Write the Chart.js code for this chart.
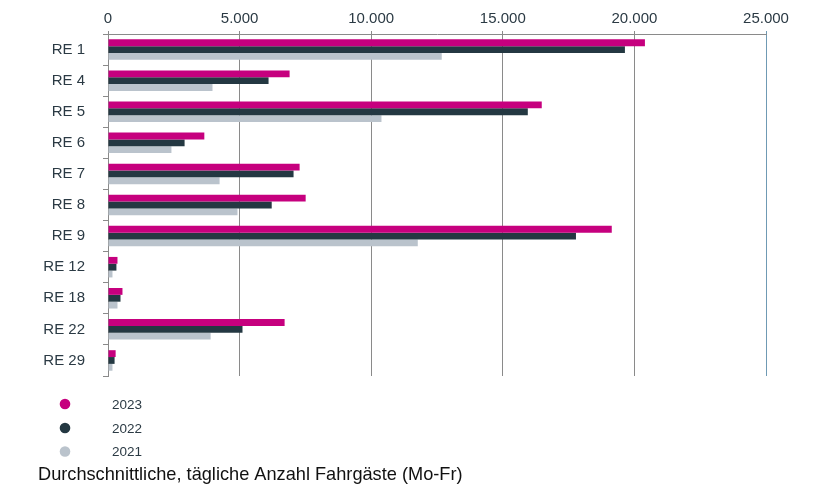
<!DOCTYPE html>
<html>
<head>
<meta charset="utf-8">
<script src="https://cdn.jsdelivr.net/npm/chart.js@4"></script>
<style>
html,body{margin:0;padding:0;background:#fff;}
#wrap{width:823px;height:503px;position:relative;}
</style>
</head>
<body>
<div id="wrap"><canvas id="c" width="823" height="503"></canvas></div>
<script>
const categories = ["RE 1","RE 4","RE 5","RE 6","RE 7","RE 8","RE 9","RE 12","RE 18","RE 22","RE 29"];
const values2023 = [20400, 6900, 16480, 3660, 7280, 7510, 19140, 360, 550, 6710, 290];
const values2022 = [19640, 6100, 15950, 2910, 7050, 6220, 17780, 320, 475, 5110, 250];
const values2021 = [12680, 3970, 10390, 2410, 4240, 4920, 11770, 170, 360, 3900, 170];
const seriesLabels = ["2023","2022","2021"];
const xTicks = [0, 5000, 10000, 15000, 20000, 25000];
const titleText = "Durchschnittliche, tägliche Anzahl Fahrgäste (Mo-Fr)";

const colors = ["#C6007E", "#243842", "#BAC3CC"];
const textColor = "#2b3a44";
const FONT = "'Liberation Sans', Arial, sans-serif";

const bottomPlugin = {
  id: 'bottomLegend',
  afterDraw(chart) {
    const ctx = chart.ctx;
    ctx.save();
    const ys = [404, 428, 451.5];
    chart.data.datasets.forEach((ds, i) => {
      ctx.beginPath();
      ctx.fillStyle = ds.backgroundColor;
      ctx.arc(65, ys[i], 5.3, 0, Math.PI * 2);
      ctx.fill();
      ctx.fillStyle = textColor;
      ctx.font = "13.5px " + FONT;
      ctx.textBaseline = 'middle';
      ctx.textAlign = 'left';
      ctx.fillText(ds.label, 112, ys[i] + 1);
    });
    ctx.fillStyle = "#111";
    ctx.font = "18.2px " + FONT;
    ctx.textBaseline = 'middle';
    ctx.fillText(titleText, 38, 475);
    ctx.restore();
  }
};

new Chart(document.getElementById('c'), {
  type: 'bar',
  data: {
    labels: categories,
    datasets: [
      { label: seriesLabels[0], data: values2023, backgroundColor: colors[0] },
      { label: seriesLabels[1], data: values2022, backgroundColor: colors[1] },
      { label: seriesLabels[2], data: values2021, backgroundColor: colors[2] }
    ]
  },
  options: {
    indexAxis: 'y',
    responsive: false,
    animation: false,
    devicePixelRatio: 1,
    layout: { padding: { left: 0, right: 57, top: 0, bottom: 127 } },
    datasets: { bar: { categoryPercentage: 0.66, barPercentage: 1.0, borderWidth: 0 } },
    plugins: { legend: { display: false }, tooltip: { enabled: false }, title: { display: false } },
    scales: {
      x: {
        position: 'top',
        min: 0, max: 25000,
        afterBuildTicks(scale) { scale.ticks = xTicks.map(v => ({ value: v })); },
        afterFit(scale) { scale.height = 34; },
        ticks: {
          font: { size: 15, family: FONT },
          color: textColor,
          padding: 3,
          callback: (v) => v.toLocaleString('de-DE')
        },
        grid: {
          color: (c) => (c.tick && c.tick.value === 25000) ? '#6f9ab4' : '#8a8a8a',
          lineWidth: 1,
          tickLength: 3
        },
        border: { display: true, color: '#8a8a8a' }
      },
      y: {
        afterFit(scale) { scale.width = 108; },
        ticks: {
          font: { size: 15, family: FONT },
          color: textColor,
          padding: 18
        },
        grid: {
          offset: true,
          drawOnChartArea: false,
          drawTicks: true,
          tickLength: 5,
          color: '#8a8a8a'
        },
        border: { display: true, color: '#8a8a8a' }
      }
    }
  },
  plugins: [bottomPlugin]
});
</script>
</body>
</html>
